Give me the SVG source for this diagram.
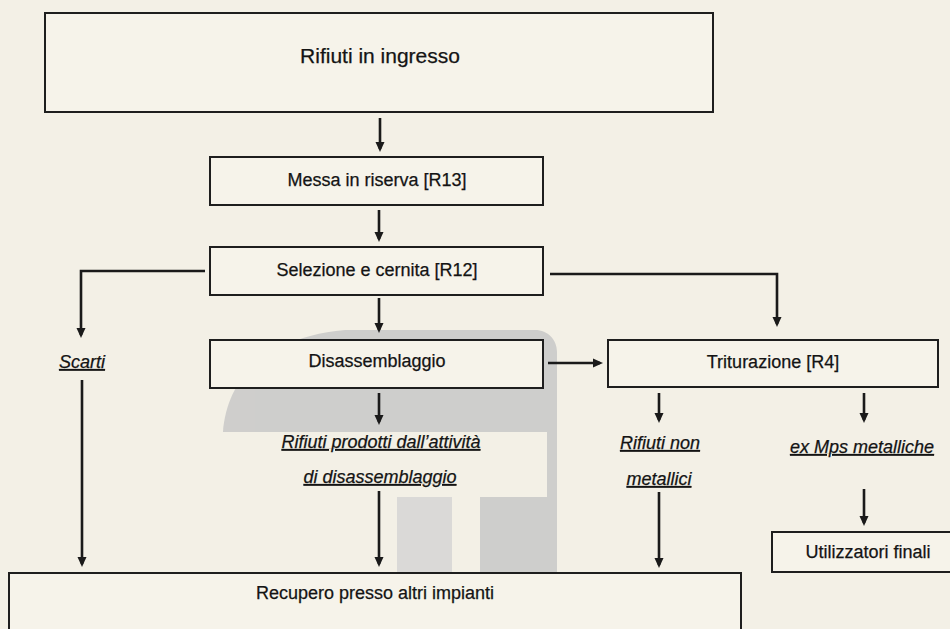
<svg xmlns="http://www.w3.org/2000/svg" width="950" height="629" viewBox="0 0 950 629">
<style>
.box{fill:#f6f3ea;stroke:#1e1e1e;stroke-width:2}
.t{font-family:"Liberation Sans",Arial,sans-serif;font-size:18px;fill:#141414;stroke:#141414;stroke-width:0.25;text-anchor:middle}
.big{font-size:21px}
.lab{font-style:italic;text-decoration:underline}
.c{fill:none;stroke:#1a1a1a;stroke-width:2.6;marker-end:url(#ah)}
.wm{fill:#c6c6c6}
</style>
<defs>
<marker id="ah" markerUnits="userSpaceOnUse" markerWidth="11" markerHeight="10" refX="7" refY="5" orient="auto">
<path d="M0,0.5 L10,5 L0,9.5 z" fill="#1a1a1a"/>
</marker>
</defs>
<rect width="950" height="629" fill="#f3f0e6"/>
<g id="watermark" opacity="0.8">
<path class="wm" d="M223,432 C226,395 245,362 285,345 C300,338 320,332 345,330 L535,330 C548,330 557,340 557,352 L557,573 L547,573 L547,432 Z"/>
<rect class="wm" x="480" y="497" width="77" height="76"/>
<rect x="397" y="497" width="55" height="76" fill="#d4d4d4"/>
</g>
<g id="connectors">
<path class="c" d="M380,118 V149"/>
<path class="c" d="M379,210 V239"/>
<path class="c" d="M379,298 V330"/>
<path class="c" d="M205,271 H81 V335"/>
<path class="c" d="M550,274 H777 V324"/>
<path class="c" d="M548,363 H600"/>
<path class="c" d="M379,393 V422"/>
<path class="c" d="M659,393 V420"/>
<path class="c" d="M864,393 V420"/>
<path class="c" d="M82,380 V564"/>
<path class="c" d="M379,491 V564"/>
<path class="c" d="M659,492 V565"/>
<path class="c" d="M864,489 V523"/>
</g>
<g id="rifiuti-ingresso"><rect class="box" x="45" y="13" width="668" height="99"/><text class="t big" x="380" y="63">Rifiuti in ingresso</text></g>
<g id="messa-riserva"><rect class="box" x="210" y="157" width="333" height="48"/><text class="t" x="377" y="186">Messa in riserva [R13]</text></g>
<g id="selezione"><rect class="box" x="210" y="247" width="333" height="48"/><text class="t" x="377" y="276">Selezione e cernita [R12]</text></g>
<g id="disassemblaggio"><rect class="box" x="210" y="340" width="333" height="48"/><text class="t" x="377" y="367">Disassemblaggio</text></g>
<g id="triturazione"><rect class="box" x="608" y="340" width="330" height="47"/><text class="t" x="773" y="368">Triturazione [R4]</text></g>
<g id="scarti"><text class="t lab" x="82" y="368">Scarti</text></g>
<g id="rifiuti-disassemblaggio"><text class="t lab" x="381" y="448">Rifiuti prodotti dall’attività</text><text class="t lab" x="380" y="483">di disassemblaggio</text></g>
<g id="rifiuti-non-metallici"><text class="t lab" x="660" y="449">Rifiuti non</text><text class="t lab" x="659" y="485">metallici</text></g>
<g id="ex-mps"><text class="t lab" x="862" y="453">ex Mps metalliche</text></g>
<g id="utilizzatori"><rect class="box" x="772" y="532" width="200" height="40"/><text class="t" x="868" y="558">Utilizzatori finali</text></g>
<g id="recupero"><rect class="box" x="9" y="573" width="732" height="80"/><text class="t" x="375" y="599">Recupero presso altri impianti</text></g>
</svg>
